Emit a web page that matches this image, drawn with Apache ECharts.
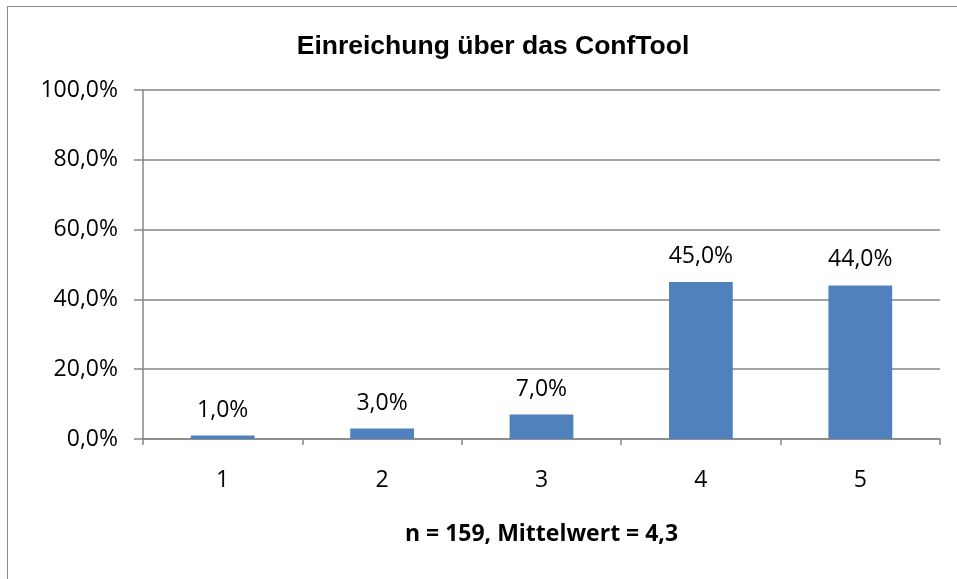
<!DOCTYPE html>
<html>
<head>
<meta charset="utf-8">
<script src="https://cdn.jsdelivr.net/npm/echarts@6/dist/echarts.min.js"></script>
<style>
  html, body { margin: 0; padding: 0; background: #fff; }
  #main { width: 957px; height: 579px; position: relative; }
  .frame { position: absolute; left: 7px; top: 6px; right: 0; bottom: 0;
           border-left: 1px solid #8a8a8a; border-top: 1px solid #8a8a8a; }
</style>
</head>
<body>
<div class="frame"></div>
<div id="main"></div>
<script>
// Daten
const categories = ["1", "2", "3", "4", "5"];
const values = [1.0, 3.0, 7.0, 45.0, 44.0];
const yTicks = [0, 20, 40, 60, 80, 100];

const fmt = (v) => v.toFixed(1).replace(".", ",") + "%";
const font = "Open Sans, Noto Sans, sans-serif";

const myChart = echarts.init(document.getElementById("main"));
const option = {
  animation: false,
  title: {
    text: "Einreichung über das ConfTool",
    left: 488,
    top: 28,
    textAlign: "center",
    textStyle: { fontSize: 26.5, fontWeight: "bold", color: "#000", fontFamily: "Liberation Sans, Arial, sans-serif" },
  },
  grid: { left: 143, right: 17, top: 90, bottom: 140 },
  xAxis: {
    type: "category",
    data: categories,
    name: "n = 159, Mittelwert = 4,3",
    nameLocation: "middle",
    nameGap: 84,
    nameTextStyle: { fontSize: 23, fontWeight: "bold", color: "#000", fontFamily: font },
    axisLine: { lineStyle: { color: "#868686", width: 1.5 } },
    axisTick: { show: true, length: 6, lineStyle: { color: "#868686", width: 1.5 } },
    axisLabel: { fontSize: 23, color: "#000", margin: 30, fontFamily: font },
  },
  yAxis: {
    type: "value",
    min: yTicks[0],
    max: yTicks[yTicks.length - 1],
    interval: 20,
    axisLine: { show: true, lineStyle: { color: "#868686", width: 1.5 } },
    axisTick: { show: true, length: 9, lineStyle: { color: "#868686", width: 1.5 } },
    splitLine: { lineStyle: { color: "#868686", width: 1.5 } },
    axisLabel: { fontSize: 23, color: "#000", margin: 25, fontFamily: font, formatter: fmt },
  },
  series: [
    {
      type: "bar",
      data: values,
      barWidth: "40%",
      itemStyle: { color: "#4F81BD" },
      label: {
        show: true,
        position: "top",
        distance: 14,
        fontSize: 23,
        color: "#000",
        fontFamily: font,
        formatter: (p) => fmt(p.value),
      },
    },
  ],
};
myChart.setOption(option);
</script>
</body>
</html>
